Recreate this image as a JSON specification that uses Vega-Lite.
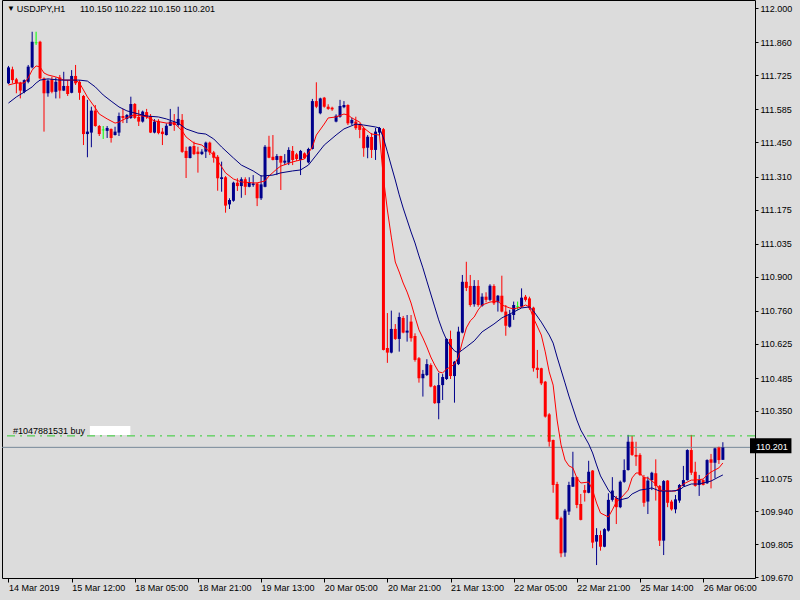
{
"$schema":"https://vega.github.io/schema/vega-lite/v6.json",
"width":753,"height":578,
"autosize":"none",
"padding":{"left":2,"top":0,"right":45,"bottom":22},
"background":"#dcdcdc",
"config":{"view":{"stroke":"#000000","strokeWidth":1},
"axis":{"domain":false,"grid":false,"labelFont":"Liberation Sans","labelFontSize":9,"labelColor":"#000000","tickColor":"#000000","labelOverlap":false,"labelBound":false},
"text":{"font":"Liberation Sans","fontSize":9}},
"datasets":{
"levels":[{"kind":"order","p":110.248},{"kind":"bid","p":110.201}],
"boxes":[{"kind":"redact","k":20.625,"k2":30.875,"p":110.288,"p2":110.252},{"kind":"price","k":187.875,"k2":198.375,"p":110.238,"p2":110.177}],
"texts":[{"kind":"dark","k":-0.375,"p":111.996,"txt":"▼","fs":8},{"kind":"dark","k":2.125,"p":111.996,"txt":"USDJPY,H1","fs":9},{"kind":"dark","k":18.125,"p":111.996,"txt":"110.150 110.222 110.150 110.201","fs":9},{"kind":"dark","k":1.125,"p":110.266,"txt":"#1047881531 buy","fs":9},{"kind":"light","k":189.375,"p":110.201,"txt":"110.201","fs":9}],
"candles":[
{"k":0,"t":"B","o":111.692,"h":111.763,"l":111.689,"c":111.757},
{"k":1,"t":"R","o":111.749,"h":111.760,"l":111.692,"c":111.705},
{"k":2,"t":"R","o":111.708,"h":111.714,"l":111.651,"c":111.692},
{"k":3,"t":"R","o":111.694,"h":111.698,"l":111.630,"c":111.662},
{"k":4,"t":"B","o":111.657,"h":111.708,"l":111.651,"c":111.705},
{"k":5,"t":"B","o":111.698,"h":111.767,"l":111.692,"c":111.760},
{"k":6,"t":"B","o":111.757,"h":111.903,"l":111.753,"c":111.862},
{"k":7,"t":"D","o":111.858,"h":111.903,"l":111.849,"c":111.858},
{"k":8,"t":"R","o":111.862,"h":111.866,"l":111.708,"c":111.712},
{"k":9,"t":"R","o":111.712,"h":111.716,"l":111.494,"c":111.651},
{"k":10,"t":"B","o":111.651,"h":111.708,"l":111.637,"c":111.703},
{"k":11,"t":"R","o":111.708,"h":111.719,"l":111.651,"c":111.657},
{"k":12,"t":"B","o":111.657,"h":111.716,"l":111.630,"c":111.698},
{"k":13,"t":"R","o":111.716,"h":111.726,"l":111.630,"c":111.662},
{"k":14,"t":"B","o":111.662,"h":111.739,"l":111.660,"c":111.681},
{"k":15,"t":"R","o":111.681,"h":111.705,"l":111.640,"c":111.648},
{"k":16,"t":"B","o":111.653,"h":111.746,"l":111.651,"c":111.722},
{"k":17,"t":"R","o":111.722,"h":111.767,"l":111.685,"c":111.692},
{"k":18,"t":"R","o":111.698,"h":111.705,"l":111.624,"c":111.653},
{"k":19,"t":"R","o":111.640,"h":111.644,"l":111.439,"c":111.484},
{"k":20,"t":"B","o":111.484,"h":111.624,"l":111.389,"c":111.494},
{"k":21,"t":"B","o":111.490,"h":111.596,"l":111.430,"c":111.580},
{"k":22,"t":"R","o":111.580,"h":111.603,"l":111.514,"c":111.517},
{"k":23,"t":"R","o":111.517,"h":111.521,"l":111.476,"c":111.484},
{"k":24,"t":"D","o":111.501,"h":111.517,"l":111.464,"c":111.501},
{"k":25,"t":"B","o":111.497,"h":111.517,"l":111.468,"c":111.509},
{"k":26,"t":"R","o":111.505,"h":111.507,"l":111.449,"c":111.468},
{"k":27,"t":"B","o":111.480,"h":111.514,"l":111.478,"c":111.494},
{"k":28,"t":"B","o":111.490,"h":111.572,"l":111.476,"c":111.558},
{"k":29,"t":"R","o":111.558,"h":111.587,"l":111.529,"c":111.550},
{"k":30,"t":"B","o":111.546,"h":111.566,"l":111.529,"c":111.562},
{"k":31,"t":"B","o":111.550,"h":111.637,"l":111.546,"c":111.607},
{"k":32,"t":"R","o":111.607,"h":111.611,"l":111.546,"c":111.550},
{"k":33,"t":"R","o":111.554,"h":111.583,"l":111.517,"c":111.535},
{"k":34,"t":"B","o":111.535,"h":111.580,"l":111.531,"c":111.576},
{"k":35,"t":"R","o":111.574,"h":111.587,"l":111.546,"c":111.554},
{"k":36,"t":"R","o":111.558,"h":111.566,"l":111.488,"c":111.490},
{"k":37,"t":"B","o":111.490,"h":111.545,"l":111.487,"c":111.535},
{"k":38,"t":"R","o":111.538,"h":111.545,"l":111.483,"c":111.488},
{"k":39,"t":"R","o":111.494,"h":111.509,"l":111.439,"c":111.484},
{"k":40,"t":"B","o":111.480,"h":111.528,"l":111.478,"c":111.518},
{"k":41,"t":"B","o":111.518,"h":111.587,"l":111.517,"c":111.535},
{"k":42,"t":"R","o":111.533,"h":111.566,"l":111.497,"c":111.521},
{"k":43,"t":"B","o":111.521,"h":111.596,"l":111.514,"c":111.546},
{"k":44,"t":"R","o":111.542,"h":111.566,"l":111.407,"c":111.411},
{"k":45,"t":"R","o":111.415,"h":111.432,"l":111.304,"c":111.386},
{"k":46,"t":"B","o":111.386,"h":111.435,"l":111.384,"c":111.432},
{"k":47,"t":"R","o":111.435,"h":111.453,"l":111.398,"c":111.402},
{"k":48,"t":"R","o":111.412,"h":111.432,"l":111.326,"c":111.402},
{"k":49,"t":"B","o":111.402,"h":111.422,"l":111.398,"c":111.412},
{"k":50,"t":"B","o":111.412,"h":111.453,"l":111.386,"c":111.449},
{"k":51,"t":"R","o":111.449,"h":111.453,"l":111.398,"c":111.409},
{"k":52,"t":"R","o":111.409,"h":111.415,"l":111.367,"c":111.387},
{"k":53,"t":"R","o":111.391,"h":111.398,"l":111.252,"c":111.303},
{"k":54,"t":"B","o":111.300,"h":111.371,"l":111.248,"c":111.307},
{"k":55,"t":"R","o":111.307,"h":111.312,"l":111.162,"c":111.191},
{"k":56,"t":"B","o":111.196,"h":111.221,"l":111.177,"c":111.214},
{"k":57,"t":"B","o":111.211,"h":111.289,"l":111.207,"c":111.285},
{"k":58,"t":"R","o":111.285,"h":111.303,"l":111.251,"c":111.271},
{"k":59,"t":"B","o":111.271,"h":111.307,"l":111.223,"c":111.299},
{"k":60,"t":"R","o":111.299,"h":111.307,"l":111.234,"c":111.268},
{"k":61,"t":"B","o":111.268,"h":111.307,"l":111.266,"c":111.285},
{"k":62,"t":"B","o":111.275,"h":111.316,"l":111.268,"c":111.282},
{"k":63,"t":"R","o":111.282,"h":111.285,"l":111.189,"c":111.221},
{"k":64,"t":"B","o":111.221,"h":111.316,"l":111.214,"c":111.278},
{"k":65,"t":"B","o":111.268,"h":111.439,"l":111.266,"c":111.432},
{"k":66,"t":"R","o":111.432,"h":111.477,"l":111.385,"c":111.387},
{"k":67,"t":"R","o":111.391,"h":111.480,"l":111.376,"c":111.378},
{"k":68,"t":"B","o":111.378,"h":111.402,"l":111.316,"c":111.394},
{"k":69,"t":"R","o":111.394,"h":111.395,"l":111.255,"c":111.367},
{"k":70,"t":"B","o":111.367,"h":111.402,"l":111.357,"c":111.375},
{"k":71,"t":"B","o":111.367,"h":111.430,"l":111.357,"c":111.419},
{"k":72,"t":"R","o":111.415,"h":111.435,"l":111.357,"c":111.378},
{"k":73,"t":"R","o":111.401,"h":111.407,"l":111.374,"c":111.382},
{"k":74,"t":"B","o":111.378,"h":111.419,"l":111.316,"c":111.415},
{"k":75,"t":"R","o":111.405,"h":111.409,"l":111.382,"c":111.385},
{"k":76,"t":"B","o":111.368,"h":111.428,"l":111.364,"c":111.423},
{"k":77,"t":"B","o":111.423,"h":111.628,"l":111.421,"c":111.619},
{"k":78,"t":"R","o":111.619,"h":111.696,"l":111.590,"c":111.596},
{"k":79,"t":"B","o":111.569,"h":111.633,"l":111.565,"c":111.630},
{"k":80,"t":"R","o":111.633,"h":111.636,"l":111.592,"c":111.596},
{"k":81,"t":"R","o":111.596,"h":111.606,"l":111.583,"c":111.587},
{"k":82,"t":"R","o":111.592,"h":111.596,"l":111.579,"c":111.585},
{"k":83,"t":"B","o":111.535,"h":111.565,"l":111.532,"c":111.559},
{"k":84,"t":"B","o":111.555,"h":111.624,"l":111.551,"c":111.599},
{"k":85,"t":"B","o":111.594,"h":111.619,"l":111.590,"c":111.603},
{"k":86,"t":"R","o":111.603,"h":111.606,"l":111.521,"c":111.528},
{"k":87,"t":"B","o":111.528,"h":111.551,"l":111.521,"c":111.542},
{"k":88,"t":"R","o":111.535,"h":111.555,"l":111.501,"c":111.508},
{"k":89,"t":"R","o":111.524,"h":111.528,"l":111.467,"c":111.501},
{"k":90,"t":"R","o":111.508,"h":111.514,"l":111.391,"c":111.426},
{"k":91,"t":"B","o":111.428,"h":111.480,"l":111.385,"c":111.473},
{"k":92,"t":"R","o":111.472,"h":111.488,"l":111.386,"c":111.419},
{"k":93,"t":"B","o":111.419,"h":111.509,"l":111.378,"c":111.494},
{"k":94,"t":"B","o":111.490,"h":111.513,"l":111.480,"c":111.509},
{"k":95,"t":"R","o":111.504,"h":111.509,"l":110.598,"c":110.600},
{"k":96,"t":"R","o":110.608,"h":110.751,"l":110.547,"c":110.589},
{"k":97,"t":"B","o":110.589,"h":110.761,"l":110.586,"c":110.686},
{"k":98,"t":"R","o":110.686,"h":110.706,"l":110.641,"c":110.645},
{"k":99,"t":"B","o":110.645,"h":110.753,"l":110.593,"c":110.735},
{"k":100,"t":"R","o":110.731,"h":110.739,"l":110.668,"c":110.671},
{"k":101,"t":"B","o":110.671,"h":110.743,"l":110.634,"c":110.679},
{"k":102,"t":"R","o":110.716,"h":110.743,"l":110.634,"c":110.648},
{"k":103,"t":"R","o":110.657,"h":110.668,"l":110.552,"c":110.559},
{"k":104,"t":"R","o":110.566,"h":110.571,"l":110.466,"c":110.484},
{"k":105,"t":"B","o":110.484,"h":110.518,"l":110.409,"c":110.502},
{"k":106,"t":"B","o":110.497,"h":110.562,"l":110.493,"c":110.542},
{"k":107,"t":"R","o":110.538,"h":110.545,"l":110.447,"c":110.450},
{"k":108,"t":"R","o":110.452,"h":110.456,"l":110.379,"c":110.382},
{"k":109,"t":"B","o":110.382,"h":110.506,"l":110.316,"c":110.456},
{"k":110,"t":"B","o":110.456,"h":110.501,"l":110.395,"c":110.489},
{"k":111,"t":"B","o":110.481,"h":110.648,"l":110.477,"c":110.645},
{"k":112,"t":"R","o":110.645,"h":110.679,"l":110.481,"c":110.493},
{"k":113,"t":"B","o":110.493,"h":110.555,"l":110.384,"c":110.552},
{"k":114,"t":"B","o":110.542,"h":110.695,"l":110.538,"c":110.675},
{"k":115,"t":"B","o":110.671,"h":110.907,"l":110.668,"c":110.879},
{"k":116,"t":"R","o":110.879,"h":110.961,"l":110.841,"c":110.854},
{"k":117,"t":"R","o":110.862,"h":110.907,"l":110.777,"c":110.784},
{"k":118,"t":"B","o":110.787,"h":110.886,"l":110.777,"c":110.862},
{"k":119,"t":"R","o":110.862,"h":110.886,"l":110.777,"c":110.784},
{"k":120,"t":"B","o":110.781,"h":110.832,"l":110.777,"c":110.818},
{"k":121,"t":"R","o":110.818,"h":110.836,"l":110.795,"c":110.805},
{"k":122,"t":"B","o":110.805,"h":110.869,"l":110.800,"c":110.863},
{"k":123,"t":"R","o":110.862,"h":110.869,"l":110.784,"c":110.791},
{"k":124,"t":"B","o":110.795,"h":110.825,"l":110.757,"c":110.822},
{"k":125,"t":"R","o":110.822,"h":110.904,"l":110.754,"c":110.757},
{"k":126,"t":"R","o":110.757,"h":110.784,"l":110.658,"c":110.699},
{"k":127,"t":"B","o":110.695,"h":110.764,"l":110.691,"c":110.746},
{"k":128,"t":"B","o":110.743,"h":110.798,"l":110.723,"c":110.784},
{"k":129,"t":"D","o":110.777,"h":110.798,"l":110.764,"c":110.777},
{"k":130,"t":"B","o":110.777,"h":110.852,"l":110.773,"c":110.814},
{"k":131,"t":"R","o":110.818,"h":110.825,"l":110.798,"c":110.805},
{"k":132,"t":"R","o":110.811,"h":110.818,"l":110.764,"c":110.771},
{"k":133,"t":"R","o":110.773,"h":110.777,"l":110.511,"c":110.525},
{"k":134,"t":"R","o":110.527,"h":110.600,"l":110.484,"c":110.518},
{"k":135,"t":"R","o":110.525,"h":110.527,"l":110.456,"c":110.463},
{"k":136,"t":"R","o":110.470,"h":110.473,"l":110.323,"c":110.327},
{"k":137,"t":"R","o":110.336,"h":110.341,"l":110.204,"c":110.224},
{"k":138,"t":"R","o":110.231,"h":110.233,"l":110.015,"c":110.047},
{"k":139,"t":"R","o":110.051,"h":110.060,"l":109.904,"c":109.907},
{"k":140,"t":"R","o":109.911,"h":109.917,"l":109.751,"c":109.767},
{"k":141,"t":"B","o":109.770,"h":109.949,"l":109.753,"c":109.942},
{"k":142,"t":"B","o":109.938,"h":110.060,"l":109.924,"c":110.047},
{"k":143,"t":"B","o":110.040,"h":110.183,"l":110.039,"c":110.079},
{"k":144,"t":"R","o":110.079,"h":110.081,"l":109.952,"c":109.965},
{"k":145,"t":"R","o":109.969,"h":110.010,"l":109.902,"c":109.904},
{"k":146,"t":"R","o":110.026,"h":110.047,"l":109.979,"c":110.015},
{"k":147,"t":"B","o":110.015,"h":110.146,"l":110.013,"c":110.101},
{"k":148,"t":"R","o":110.106,"h":110.108,"l":109.788,"c":109.811},
{"k":149,"t":"B","o":109.815,"h":109.870,"l":109.719,"c":109.842},
{"k":150,"t":"R","o":109.842,"h":109.860,"l":109.778,"c":109.794},
{"k":151,"t":"B","o":109.794,"h":109.870,"l":109.792,"c":109.866},
{"k":152,"t":"B","o":109.860,"h":110.013,"l":109.856,"c":109.986},
{"k":153,"t":"B","o":109.986,"h":110.079,"l":109.979,"c":110.024},
{"k":154,"t":"R","o":109.993,"h":110.002,"l":109.887,"c":109.956},
{"k":155,"t":"B","o":109.956,"h":110.065,"l":109.952,"c":110.060},
{"k":156,"t":"B","o":110.060,"h":110.152,"l":110.056,"c":110.108},
{"k":157,"t":"B","o":110.108,"h":110.252,"l":110.106,"c":110.224},
{"k":158,"t":"R","o":110.224,"h":110.248,"l":110.166,"c":110.170},
{"k":159,"t":"R","o":110.170,"h":110.224,"l":110.125,"c":110.163},
{"k":160,"t":"R","o":110.170,"h":110.177,"l":110.084,"c":110.088},
{"k":161,"t":"R","o":110.079,"h":110.088,"l":109.958,"c":109.974},
{"k":162,"t":"B","o":109.979,"h":110.081,"l":109.928,"c":110.065},
{"k":163,"t":"B","o":110.067,"h":110.101,"l":110.026,"c":110.097},
{"k":164,"t":"R","o":110.095,"h":110.152,"l":109.983,"c":110.043},
{"k":165,"t":"R","o":110.043,"h":110.047,"l":109.797,"c":109.819},
{"k":166,"t":"B","o":109.819,"h":110.067,"l":109.760,"c":110.063},
{"k":167,"t":"R","o":110.065,"h":110.067,"l":109.956,"c":109.974},
{"k":168,"t":"R","o":109.979,"h":109.986,"l":109.942,"c":109.947},
{"k":169,"t":"B","o":109.947,"h":110.006,"l":109.931,"c":109.988},
{"k":170,"t":"B","o":109.983,"h":110.051,"l":109.974,"c":110.047},
{"k":171,"t":"B","o":110.043,"h":110.125,"l":110.041,"c":110.067},
{"k":172,"t":"B","o":110.067,"h":110.193,"l":110.065,"c":110.190},
{"k":173,"t":"R","o":110.190,"h":110.252,"l":110.088,"c":110.097},
{"k":174,"t":"R","o":110.101,"h":110.142,"l":110.040,"c":110.043},
{"k":175,"t":"B","o":110.047,"h":110.088,"l":110.002,"c":110.067},
{"k":176,"t":"R","o":110.067,"h":110.070,"l":110.045,"c":110.047},
{"k":177,"t":"B","o":110.054,"h":110.152,"l":110.051,"c":110.149},
{"k":178,"t":"R","o":110.152,"h":110.174,"l":110.033,"c":110.138},
{"k":179,"t":"B","o":110.138,"h":110.201,"l":110.074,"c":110.197},
{"k":180,"t":"R","o":110.201,"h":110.204,"l":110.133,"c":110.149},
{"k":181,"t":"B","o":110.150,"h":110.222,"l":110.150,"c":110.201}
],
"ma":[
{"s":"f","k":0,"v":111.685},{"s":"f","k":2,"v":111.693},{"s":"f","k":4,"v":111.693},{"s":"f","k":5,"v":111.714},{"s":"f","k":6,"v":111.746},{"s":"f","k":7,"v":111.763},{"s":"f","k":8,"v":111.759},{"s":"f","k":9,"v":111.734},{"s":"f","k":10,"v":111.726},{"s":"f","k":12,"v":111.718},{"s":"f","k":14,"v":111.705},{"s":"f","k":17,"v":111.705},{"s":"f","k":18,"v":111.693},{"s":"f","k":20,"v":111.636},{"s":"f","k":22,"v":111.591},{"s":"f","k":23,"v":111.566},{"s":"f","k":25,"v":111.546},{"s":"f","k":27,"v":111.529},{"s":"f","k":28,"v":111.533},{"s":"f","k":29,"v":111.542},{"s":"f","k":31,"v":111.558},{"s":"f","k":32,"v":111.562},{"s":"f","k":34,"v":111.558},{"s":"f","k":35,"v":111.554},{"s":"f","k":37,"v":111.538},{"s":"f","k":40,"v":111.529},{"s":"f","k":42,"v":111.529},{"s":"f","k":44,"v":111.497},{"s":"f","k":45,"v":111.472},{"s":"f","k":47,"v":111.447},{"s":"f","k":49,"v":111.439},{"s":"f","k":52,"v":111.398},{"s":"f","k":53,"v":111.374},{"s":"f","k":55,"v":111.325},{"s":"f","k":57,"v":111.300},{"s":"f","k":59,"v":111.288},{"s":"f","k":62,"v":111.284},{"s":"f","k":63,"v":111.284},{"s":"f","k":65,"v":111.292},{"s":"f","k":66,"v":111.312},{"s":"f","k":68,"v":111.341},{"s":"f","k":69,"v":111.353},{"s":"f","k":72,"v":111.370},{"s":"f","k":73,"v":111.374},{"s":"f","k":75,"v":111.382},{"s":"f","k":77,"v":111.431},{"s":"f","k":78,"v":111.480},{"s":"f","k":80,"v":111.525},{"s":"f","k":81,"v":111.550},{"s":"f","k":83,"v":111.554},{"s":"f","k":85,"v":111.566},{"s":"f","k":86,"v":111.562},{"s":"f","k":87,"v":111.550},{"s":"f","k":89,"v":111.533},{"s":"f","k":90,"v":111.509},{"s":"f","k":92,"v":111.484},{"s":"f","k":94,"v":111.480},{"s":"f","k":95,"v":111.304},{"s":"f","k":96,"v":111.173},{"s":"f","k":97,"v":111.062},{"s":"f","k":98,"v":110.960},{"s":"f","k":99,"v":110.919},{"s":"f","k":100,"v":110.874},{"s":"f","k":101,"v":110.837},{"s":"f","k":102,"v":110.792},{"s":"f","k":103,"v":110.735},{"s":"f","k":104,"v":110.682},{"s":"f","k":105,"v":110.649},{"s":"f","k":106,"v":110.612},{"s":"f","k":107,"v":110.571},{"s":"f","k":108,"v":110.538},{"s":"f","k":109,"v":110.510},{"s":"f","k":110,"v":110.506},{"s":"f","k":111,"v":110.522},{"s":"f","k":112,"v":110.530},{"s":"f","k":113,"v":110.542},{"s":"f","k":114,"v":110.571},{"s":"f","k":115,"v":110.633},{"s":"f","k":116,"v":110.690},{"s":"f","k":117,"v":110.719},{"s":"f","k":118,"v":110.735},{"s":"f","k":119,"v":110.764},{"s":"f","k":120,"v":110.784},{"s":"f","k":122,"v":110.796},{"s":"f","k":124,"v":110.800},{"s":"f","k":125,"v":110.784},{"s":"f","k":127,"v":110.772},{"s":"f","k":128,"v":110.768},{"s":"f","k":130,"v":110.776},{"s":"f","k":131,"v":110.784},{"s":"f","k":132,"v":110.776},{"s":"f","k":133,"v":110.731},{"s":"f","k":135,"v":110.661},{"s":"f","k":136,"v":110.592},{"s":"f","k":137,"v":110.510},{"s":"f","k":138,"v":110.456},{"s":"f","k":139,"v":110.313},{"s":"f","k":140,"v":110.211},{"s":"f","k":141,"v":110.149},{"s":"f","k":142,"v":110.125},{"s":"f","k":143,"v":110.117},{"s":"f","k":144,"v":110.076},{"s":"f","k":145,"v":110.055},{"s":"f","k":147,"v":110.059},{"s":"f","k":148,"v":110.026},{"s":"f","k":149,"v":109.973},{"s":"f","k":150,"v":109.932},{"s":"f","k":152,"v":109.916},{"s":"f","k":153,"v":109.945},{"s":"f","k":154,"v":109.977},{"s":"f","k":155,"v":109.990},{"s":"f","k":157,"v":110.026},{"s":"f","k":158,"v":110.076},{"s":"f","k":159,"v":110.096},{"s":"f","k":160,"v":110.096},{"s":"f","k":161,"v":110.076},{"s":"f","k":162,"v":110.076},{"s":"f","k":164,"v":110.051},{"s":"f","k":165,"v":110.026},{"s":"f","k":167,"v":110.022},{"s":"f","k":169,"v":110.022},{"s":"f","k":170,"v":110.035},{"s":"f","k":171,"v":110.051},{"s":"f","k":173,"v":110.067},{"s":"f","k":174,"v":110.067},{"s":"f","k":176,"v":110.071},{"s":"f","k":177,"v":110.088},{"s":"f","k":178,"v":110.100},{"s":"f","k":180,"v":110.117},{"s":"f","k":181,"v":110.137},
{"s":"s","k":0,"v":111.611},{"s":"s","k":2,"v":111.636},{"s":"s","k":4,"v":111.656},{"s":"s","k":6,"v":111.677},{"s":"s","k":7,"v":111.693},{"s":"s","k":8,"v":111.705},{"s":"s","k":10,"v":111.710},{"s":"s","k":13,"v":111.705},{"s":"s","k":18,"v":111.705},{"s":"s","k":20,"v":111.701},{"s":"s","k":22,"v":111.677},{"s":"s","k":24,"v":111.644},{"s":"s","k":26,"v":111.619},{"s":"s","k":28,"v":111.595},{"s":"s","k":30,"v":111.579},{"s":"s","k":33,"v":111.566},{"s":"s","k":35,"v":111.558},{"s":"s","k":38,"v":111.554},{"s":"s","k":40,"v":111.546},{"s":"s","k":43,"v":111.529},{"s":"s","k":45,"v":111.505},{"s":"s","k":48,"v":111.488},{"s":"s","k":50,"v":111.484},{"s":"s","k":52,"v":111.464},{"s":"s","k":54,"v":111.431},{"s":"s","k":57,"v":111.386},{"s":"s","k":59,"v":111.357},{"s":"s","k":62,"v":111.333},{"s":"s","k":64,"v":111.312},{"s":"s","k":67,"v":111.316},{"s":"s","k":69,"v":111.325},{"s":"s","k":72,"v":111.333},{"s":"s","k":74,"v":111.337},{"s":"s","k":76,"v":111.357},{"s":"s","k":78,"v":111.398},{"s":"s","k":80,"v":111.439},{"s":"s","k":83,"v":111.480},{"s":"s","k":85,"v":111.505},{"s":"s","k":88,"v":111.525},{"s":"s","k":90,"v":111.521},{"s":"s","k":93,"v":111.513},{"s":"s","k":94,"v":111.509},{"s":"s","k":95,"v":111.468},{"s":"s","k":96,"v":111.411},{"s":"s","k":97,"v":111.353},{"s":"s","k":98,"v":111.296},{"s":"s","k":99,"v":111.235},{"s":"s","k":100,"v":111.181},{"s":"s","k":101,"v":111.132},{"s":"s","k":102,"v":111.083},{"s":"s","k":103,"v":111.038},{"s":"s","k":104,"v":110.985},{"s":"s","k":105,"v":110.936},{"s":"s","k":106,"v":110.882},{"s":"s","k":107,"v":110.829},{"s":"s","k":108,"v":110.776},{"s":"s","k":109,"v":110.723},{"s":"s","k":110,"v":110.678},{"s":"s","k":111,"v":110.641},{"s":"s","k":112,"v":110.616},{"s":"s","k":113,"v":110.596},{"s":"s","k":114,"v":110.588},{"s":"s","k":115,"v":110.600},{"s":"s","k":116,"v":110.612},{"s":"s","k":118,"v":110.637},{"s":"s","k":120,"v":110.674},{"s":"s","k":123,"v":110.706},{"s":"s","k":125,"v":110.731},{"s":"s","k":128,"v":110.755},{"s":"s","k":130,"v":110.772},{"s":"s","k":132,"v":110.776},{"s":"s","k":133,"v":110.760},{"s":"s","k":135,"v":110.714},{"s":"s","k":137,"v":110.661},{"s":"s","k":138,"v":110.628},{"s":"s","k":139,"v":110.571},{"s":"s","k":140,"v":110.518},{"s":"s","k":141,"v":110.465},{"s":"s","k":142,"v":110.411},{"s":"s","k":143,"v":110.362},{"s":"s","k":144,"v":110.313},{"s":"s","k":145,"v":110.272},{"s":"s","k":147,"v":110.215},{"s":"s","k":148,"v":110.178},{"s":"s","k":149,"v":110.129},{"s":"s","k":150,"v":110.084},{"s":"s","k":152,"v":110.026},{"s":"s","k":153,"v":110.006},{"s":"s","k":154,"v":109.994},{"s":"s","k":155,"v":109.986},{"s":"s","k":157,"v":109.994},{"s":"s","k":158,"v":110.010},{"s":"s","k":160,"v":110.026},{"s":"s","k":162,"v":110.031},{"s":"s","k":163,"v":110.035},{"s":"s","k":165,"v":110.022},{"s":"s","k":168,"v":110.022},{"s":"s","k":170,"v":110.026},{"s":"s","k":171,"v":110.039},{"s":"s","k":173,"v":110.051},{"s":"s","k":175,"v":110.051},{"s":"s","k":176,"v":110.055},{"s":"s","k":178,"v":110.063},{"s":"s","k":180,"v":110.080},{"s":"s","k":181,"v":110.088}
]
},
"layer":[
{"data":{"name":"candles"},
 "mark":{"type":"rule","strokeWidth":1},
 "encoding":{
  "x":{"field":"k","type":"quantitative","title":null,"scale":{"domain":[-0.375,187.875],"nice":false,"zero":false},
   "axis":{"title":null,"orient":"bottom","values":[0,16,32,48,64,80,96,112,128,144,160,176],"tickSize":4,"labelAlign":"left","labelBaseline":"top","labelPadding":1,"labelOverlap":false,"labelFlush":false,"labelBound":false,
   "labelExpr":"['14 Mar 2019','15 Mar 12:00','18 Mar 05:00','18 Mar 21:00','19 Mar 13:00','20 Mar 05:00','20 Mar 21:00','21 Mar 13:00','22 Mar 05:00','22 Mar 21:00','25 Mar 14:00','26 Mar 06:00'][round(datum.value/16)]"}},
  "y":{"field":"l","type":"quantitative","title":null,"scale":{"domain":[109.666,112.033],"nice":false,"zero":false},
   "axis":{"title":null,"orient":"right","values":[109.67,109.805,109.94,110.075,110.35,110.485,110.625,110.76,110.9,111.035,111.175,111.31,111.45,111.585,111.725,111.86,112.0],"tickCount":17,"format":".3f","tickSize":3,"labelPadding":2,"labelAlign":"left","labelBaseline":"middle","labelOverlap":false,"labelFlush":false}},
  "y2":{"field":"h"},
  "color":{"field":"t","type":"nominal","scale":{"domain":["B","R","D"],"range":["#00008b","#ff0000","#00ff00"]},"legend":null}}},
{"data":{"name":"levels"},"transform":[{"filter":"datum.kind=='order'"}],
 "mark":{"type":"rule","color":"#32cd32","strokeWidth":1,"strokeDash":[8,5,2,5]},
 "encoding":{"y":{"field":"p","type":"quantitative","title":null}}},
{"data":{"name":"levels"},"transform":[{"filter":"datum.kind=='bid'"}],
 "mark":{"type":"rule","color":"#778899","strokeWidth":1},
 "encoding":{"y":{"field":"p","type":"quantitative","title":null}}},
{"data":{"name":"boxes"},"transform":[{"filter":"datum.kind=='redact'"}],
 "mark":{"type":"rect","color":"#ffffff"},
 "encoding":{"x":{"field":"k","type":"quantitative","title":null},"x2":{"field":"k2"},"y":{"field":"p","type":"quantitative","title":null},"y2":{"field":"p2"}}},
{"data":{"name":"candles"},"transform":[{"filter":"datum.t!='D'"}],
 "mark":{"type":"bar","size":3},
 "encoding":{"x":{"field":"k","type":"quantitative","title":null},"y":{"field":"o","type":"quantitative","title":null},"y2":{"field":"c"},
  "color":{"field":"t","type":"nominal","scale":{"domain":["B","R","D"],"range":["#00008b","#ff0000","#00ff00"]},"legend":null}}},
{"data":{"name":"candles"},"transform":[{"filter":"datum.t=='D'"}],
 "mark":{"type":"tick","orient":"horizontal","size":3,"thickness":1,"color":"#00ff00"},
 "encoding":{"x":{"field":"k","type":"quantitative","title":null},"y":{"field":"o","type":"quantitative","title":null}}},
{"data":{"name":"ma"},"transform":[{"filter":"datum.s=='f'"}],
 "mark":{"type":"line","color":"#ff0000","strokeWidth":1},
 "encoding":{"x":{"field":"k","type":"quantitative","title":null},"y":{"field":"v","type":"quantitative","title":null}}},
{"data":{"name":"ma"},"transform":[{"filter":"datum.s=='s'"}],
 "mark":{"type":"line","color":"#000080","strokeWidth":1},
 "encoding":{"x":{"field":"k","type":"quantitative","title":null},"y":{"field":"v","type":"quantitative","title":null}}},
{"data":{"name":"boxes"},"transform":[{"filter":"datum.kind=='price'"}],
 "mark":{"type":"rect","color":"#000000"},
 "encoding":{"x":{"field":"k","type":"quantitative","title":null},"x2":{"field":"k2"},"y":{"field":"p","type":"quantitative","title":null},"y2":{"field":"p2"}}},
{"data":{"name":"texts"},"transform":[{"filter":"datum.kind=='dark'"}],
 "mark":{"type":"text","align":"left","baseline":"middle","color":"#000000","font":"Liberation Sans"},
 "encoding":{"x":{"field":"k","type":"quantitative","title":null},"y":{"field":"p","type":"quantitative","title":null},"text":{"field":"txt"},"size":{"field":"fs","type":"quantitative","scale":null}}},
{"data":{"name":"texts"},"transform":[{"filter":"datum.kind=='light'"}],
 "mark":{"type":"text","align":"left","baseline":"middle","color":"#ffffff","font":"Liberation Sans","fontSize":9},
 "encoding":{"x":{"field":"k","type":"quantitative","title":null},"y":{"field":"p","type":"quantitative","title":null},"text":{"field":"txt"}}}
]
}
